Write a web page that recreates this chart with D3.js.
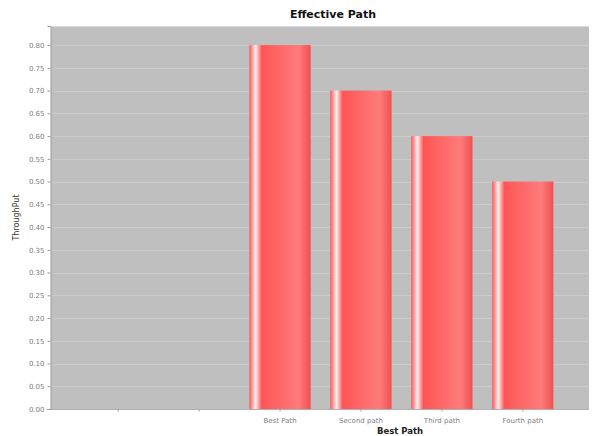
<!DOCTYPE html>
<html>
<head>
<meta charset="utf-8">
<script src="https://cdn.jsdelivr.net/npm/d3@7"></script>
<style>
  html, body { margin: 0; padding: 0; background: #fff; }
  svg { display: block; }
</style>
</head>
<body>
<svg id="chart" width="592" height="436"></svg>
<script>
// Category labels (two unlabeled slots precede the paths)
const categories = ["", "", "Best Path", "Second path", "Third path", "Fourth path"];
// Throughput per category (empty slots have no bar)
const throughput = [null, null, 0.80, 0.70, 0.60, 0.50];
// Value-axis tick labels
const yTicks = [0.00, 0.05, 0.10, 0.15, 0.20, 0.25, 0.30, 0.35, 0.40, 0.45, 0.50, 0.55, 0.60, 0.65, 0.70, 0.75, 0.80];

const title = "Effective Path";
const xTitle = "Best Path";
const yTitle = "ThroughPut";

const svg = d3.select("#chart");
const plot = { left: 51, right: 589, top: 26, bottom: 409 };

const x = d3.scaleBand()
  .domain(d3.range(categories.length))
  .range([plot.left + 1, plot.right])
  .paddingInner(0.243)
  .paddingOuter(0.44);

const y = d3.scaleLinear()
  .domain([0, 0.842])
  .range([plot.bottom, plot.top]);

// Bar gradient: red -> white highlight -> red -> lighter red -> red
const defs = svg.append("defs");
const grad = defs.append("linearGradient")
  .attr("id", "barGrad")
  .attr("x1", "0").attr("y1", "0").attr("x2", "1").attr("y2", "0");
[[0, "#ff5555"], [0.1, "#fff0f0"], [0.2, "#ff5555"], [0.8, "#ff7b7b"], [1, "#f25050"]]
  .forEach(([o, c]) => grad.append("stop").attr("offset", o).attr("stop-color", c));

// Plot background
svg.append("rect")
  .attr("x", plot.left).attr("y", plot.top)
  .attr("width", plot.right - plot.left).attr("height", plot.bottom - plot.top)
  .attr("fill", "#bfbfbf");
svg.append("line")
  .attr("x1", plot.left).attr("x2", plot.right)
  .attr("y1", plot.top + 0.5).attr("y2", plot.top + 0.5)
  .attr("stroke", "#d8d8d8");

// Horizontal gridlines
svg.append("g")
  .selectAll("line")
  .data(yTicks.filter(d => d > 0))
  .join("line")
  .attr("x1", plot.left).attr("x2", plot.right)
  .attr("y1", d => Math.round(y(d)) + 0.5).attr("y2", d => Math.round(y(d)) + 0.5)
  .attr("stroke", "#cbcbcb")
  .attr("stroke-width", 1);

// Bars
svg.append("g")
  .selectAll("rect")
  .data(throughput.map((v, i) => ({ i, v })).filter(d => d.v !== null))
  .join("rect")
  .attr("x", d => x(d.i))
  .attr("y", d => y(d.v))
  .attr("width", x.bandwidth())
  .attr("height", d => y(0) - y(d.v))
  .attr("fill", "url(#barGrad)");

// Y axis
const yAxis = d3.axisLeft(y)
  .tickValues(yTicks)
  .tickFormat(d3.format(".2f"))
  .tickSize(3)
  .tickPadding(3);
const yg = svg.append("g")
  .attr("transform", `translate(${plot.left - 0.5},0)`)
  .call(yAxis);
yg.select(".domain").attr("stroke", "#9a9a9a");
yg.selectAll(".tick line").attr("stroke", "#9a9a9a");
yg.selectAll(".tick text")
  .attr("font-family", "DejaVu Sans, sans-serif")
  .attr("font-size", 7)
  .attr("fill", "#808080");

// X axis
const xAxis = d3.axisBottom(x)
  .tickFormat(i => categories[i])
  .tickSize(2)
  .tickPadding(7);
const xg = svg.append("g")
  .attr("transform", `translate(0,${plot.bottom + 0.5})`)
  .call(xAxis);
xg.select(".domain").attr("stroke", "#b0b0b0").attr("d", `M${plot.left},0H${plot.right}`);
xg.selectAll(".tick line").attr("stroke", "#9a9a9a");
xg.selectAll(".tick text")
  .attr("font-family", "DejaVu Sans, sans-serif")
  .attr("font-size", 7)
  .attr("fill", "#808080");

// Titles
svg.append("text")
  .attr("x", 333).attr("y", 18)
  .attr("text-anchor", "middle")
  .attr("font-family", "DejaVu Sans, sans-serif")
  .attr("font-weight", "bold")
  .attr("font-size", 11)
  .attr("fill", "#111")
  .text(title);

svg.append("text")
  .attr("x", 400).attr("y", 434)
  .attr("text-anchor", "middle")
  .attr("font-family", "DejaVu Sans, sans-serif")
  .attr("font-weight", "bold")
  .attr("font-size", 8.5)
  .attr("fill", "#222")
  .text(xTitle);

svg.append("text")
  .attr("transform", `translate(19,${(plot.top + plot.bottom) / 2}) rotate(-90)`)
  .attr("text-anchor", "middle")
  .attr("font-family", "DejaVu Sans, sans-serif")
  .attr("font-size", 8)
  .attr("fill", "#333")
  .text(yTitle);
</script>
</body>
</html>
